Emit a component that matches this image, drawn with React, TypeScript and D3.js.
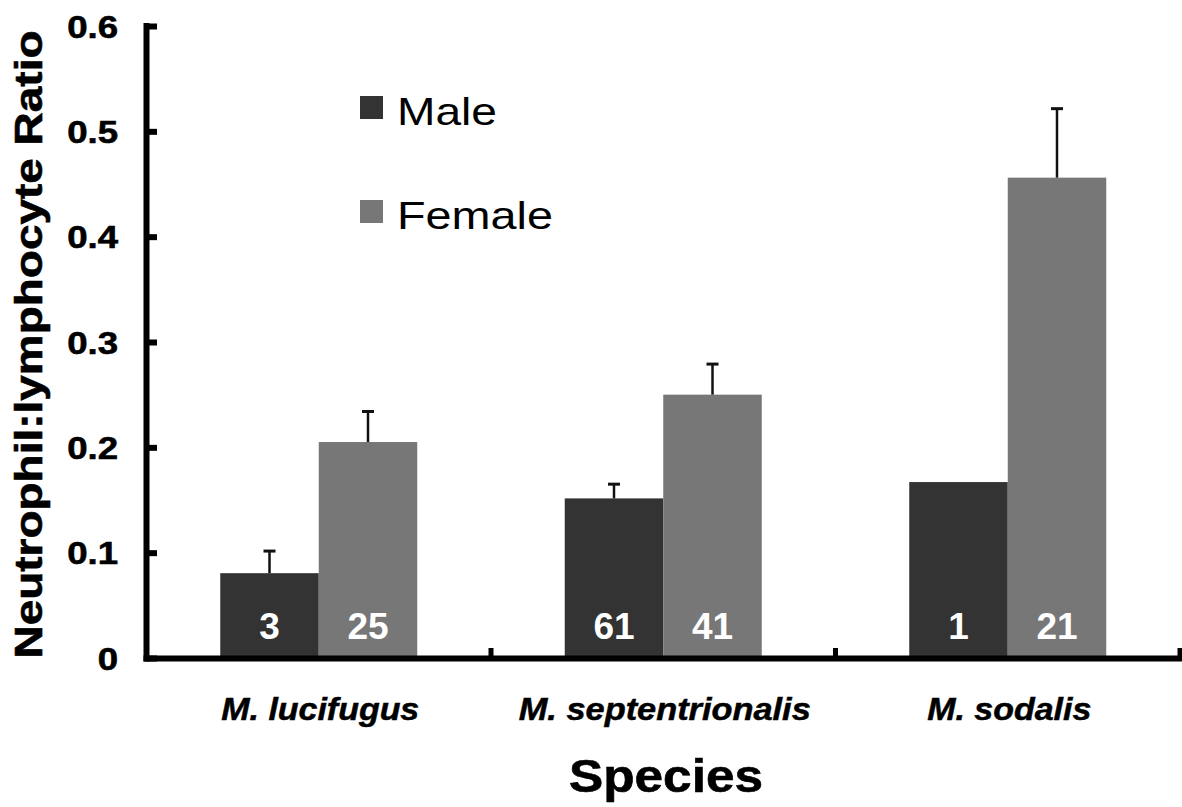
import React from "react";
import * as d3 from "d3";

const categories = ["M. lucifugus", "M. septentrionalis", "M. sodalis"];
const seriesNames = ["Male", "Female"];
const maleValues = [0.081, 0.152, 0.1675];
const femaleValues = [0.2055, 0.2505, 0.4565];
const maleErrors: (number | null)[] = [0.021, 0.0135, null];
const femaleErrors: (number | null)[] = [0.029, 0.029, 0.0655];
const maleN = ["3", "61", "1"];
const femaleN = ["25", "41", "21"];
const yTickValues = [0, 0.1, 0.2, 0.3, 0.4, 0.5, 0.6];
const yTickLabels = ["0", "0.1", "0.2", "0.3", "0.4", "0.5", "0.6"];
const categoryLabelWidths = [198, 292, 164];
const seriesColors = ["#333333", "#777777"];

const W = 1182;
const H = 807;
const FONT = "'Liberation Sans', Arial, Helvetica, sans-serif";

export default function App() {
  const y = d3.scaleLinear().domain([0, 0.6]).range([658.5, 26.5]);
  const x = d3.scaleBand<string>().domain(categories).range([146.5, 1180]).paddingInner(0).paddingOuter(0);
  const bw = x.bandwidth();
  const groupW = 197;
  const xs = d3
    .scaleBand<string>()
    .domain(seriesNames)
    .range([(bw - groupW) / 2, (bw + groupW) / 2]);

  const seriesValues = [maleValues, femaleValues];
  const seriesErrors = [maleErrors, femaleErrors];
  const seriesN = [maleN, femaleN];
  const axisX = x.range()[0];
  const axisY = y(0);
  const xTickPositions = [...categories.map((c) => x(c)!), x.range()[1]];

  return (
    <svg
      width={W}
      height={H}
      viewBox={`0 0 ${W} ${H}`}
      style={{ position: "absolute", left: 0, top: 0, background: "#fff" }}
    >
      <rect x={0} y={0} width={W} height={H} fill="#fff" />

      {/* bars */}
      {categories.map((c, ci) =>
        seriesNames.map((s, si) => {
          const v = seriesValues[si][ci];
          const bx = x(c)! + xs(s)!;
          return (
            <rect
              key={`${c}-${s}`}
              x={bx}
              y={y(v)}
              width={xs.bandwidth()}
              height={y(0) - y(v)}
              fill={seriesColors[si]}
            />
          );
        })
      )}

      {/* error bars */}
      {categories.map((c, ci) =>
        seriesNames.map((s, si) => {
          const e = seriesErrors[si][ci];
          if (e == null) return null;
          const v = seriesValues[si][ci];
          const cx = x(c)! + xs(s)! + xs.bandwidth() / 2;
          return (
            <g key={`err-${c}-${s}`} stroke="#111">
              <line x1={cx} x2={cx} y1={y(v)} y2={y(v + e)} strokeWidth={2.5} />
              <line x1={cx - 6} x2={cx + 6} y1={y(v + e)} y2={y(v + e)} strokeWidth={3} />
            </g>
          );
        })
      )}

      {/* n labels */}
      {categories.map((c, ci) =>
        seriesNames.map((s, si) => (
          <text
            key={`n-${c}-${s}`}
            x={x(c)! + xs(s)! + xs.bandwidth() / 2}
            y={y(0) - 20}
            textAnchor="middle"
            fill="#fff"
            fontFamily={FONT}
            fontWeight="bold"
            fontSize={37}
          >
            {seriesN[si][ci]}
          </text>
        ))
      )}

      {/* y axis */}
      <line x1={axisX} x2={axisX} y1={y(0.6) - 3.5} y2={axisY + 3} stroke="#000" strokeWidth={6} />
      {yTickValues.map((t) => (
        <line key={`yt-${t}`} x1={axisX} x2={axisX + 10.5} y1={y(t)} y2={y(t)} stroke="#000" strokeWidth={6} />
      ))}
      {yTickValues.map((t, i) => (
        <text
          key={`yl-${t}`}
          transform={`translate(118, ${y(t) + 11}) scale(1.18, 1)`}
          textAnchor="end"
          fontFamily={FONT}
          fontWeight="bold"
          fontSize={31}
          fill="#000"
          stroke="#000"
          strokeWidth={0.6}
        >
          {yTickLabels[i]}
        </text>
      ))}

      {/* x axis */}
      <line x1={axisX - 3} x2={x.range()[1] + 2} y1={axisY} y2={axisY} stroke="#000" strokeWidth={6} />
      {xTickPositions.map((p, i) => (
        <line key={`xt-${i}`} x1={p} x2={p} y1={axisY} y2={axisY - 10.5} stroke="#000" strokeWidth={5} />
      ))}
      {categories.map((c, ci) => (
        <text
          key={`xl-${c}`}
          x={x(c)! + bw / 2 + 1.5}
          y={720}
          textAnchor="middle"
          fontFamily={FONT}
          fontWeight="bold"
          fontStyle="italic"
          fontSize={31}
          textLength={categoryLabelWidths[ci]}
          lengthAdjust="spacingAndGlyphs"
          fill="#000"
          stroke="#000"
          strokeWidth={0.5}
        >
          {c}
        </text>
      ))}

      {/* axis titles */}
      <text
        x={666}
        y={792}
        textAnchor="middle"
        fontFamily={FONT}
        fontWeight="bold"
        fontSize={46}
        textLength={194}
        lengthAdjust="spacingAndGlyphs"
        fill="#000"
        stroke="#000"
        strokeWidth={0.6}
      >
        Species
      </text>
      <text
        transform="translate(41.5, 344.5) rotate(-90)"
        textAnchor="middle"
        fontFamily={FONT}
        fontWeight="bold"
        fontSize={38}
        textLength={628}
        lengthAdjust="spacingAndGlyphs"
        fill="#000"
        stroke="#000"
        strokeWidth={0.6}
      >
        Neutrophil:lymphocyte Ratio
      </text>

      {/* legend */}
      {seriesNames.map((s, si) => (
        <g key={`lg-${s}`} transform={`translate(360, ${96 + si * 104})`}>
          <rect x={0} y={0} width={23} height={23} fill={seriesColors[si]} />
          <text
            x={37}
            y={29}
            fontFamily={FONT}
            fontSize={39}
            textLength={si === 0 ? 100 : 156}
            lengthAdjust="spacingAndGlyphs"
            fill="#000"
          >
            {s}
          </text>
        </g>
      ))}
    </svg>
  );
}
